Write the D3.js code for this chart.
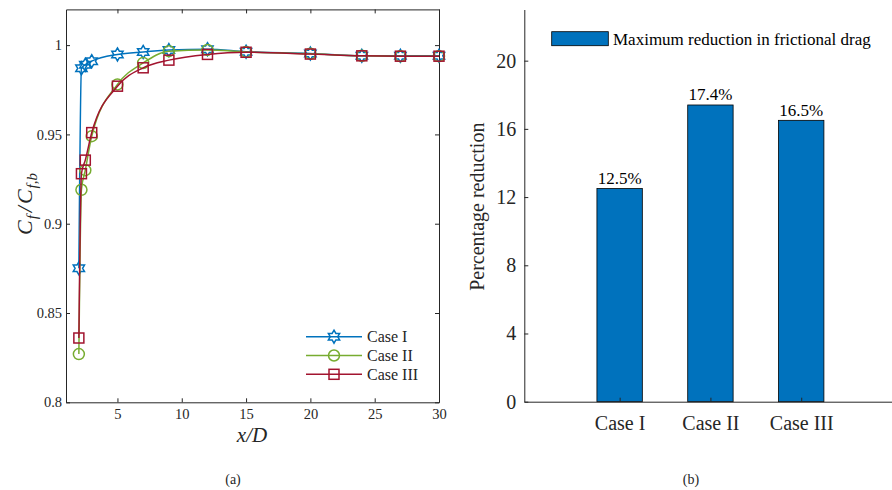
<!DOCTYPE html>
<html>
<head>
<meta charset="utf-8">
<script src="https://cdn.jsdelivr.net/npm/d3@7"></script>
<style>
body { margin: 0; background: #fff; }
text { font-family: "Liberation Serif", "Times New Roman", serif; fill: #262626; }
</style>
</head>
<body>
<script>
// x/D stations and Cf/Cf,b for each case
const xD = [2, 2.2, 2.5, 3, 5, 7, 9, 12, 15, 20, 24, 27, 30]
const caseI = [0.875, 0.987, 0.989, 0.991, 0.9948, 0.9962, 0.9972, 0.9977, 0.9963, 0.9953, 0.994, 0.994, 0.994]
const caseII = [0.827, 0.919, 0.930, 0.949, 0.978, 0.990, 0.9966, 0.9973, 0.9962, 0.9952, 0.994, 0.9938, 0.9938]
const caseIII = [0.836, 0.928, 0.9356, 0.951, 0.977, 0.9873, 0.9916, 0.9948, 0.996, 0.995, 0.994, 0.9938, 0.9938]
const xTicksL = [5, 10, 15, 20, 25, 30]
const yTicksL = [0.8, 0.85, 0.9, 0.95, 1]

// bar chart
const cases = ['Case I', 'Case II', 'Case III']
const reduction = [12.5, 17.4, 16.5]
const yTicksR = [0, 4, 8, 12, 16, 20]

const axisColor = '#262626'
const svg = d3.select('body').append('svg').attr('width', 892).attr('height', 490)

// ---------- (a) ----------
const xL = d3.scaleLinear().domain([1, 30]).range([66, 439])
const yL = d3.scaleLinear().domain([0.8, 1.02]).range([402.3, 9.4])

function styleAxis(g, size){
    g.select('.domain').attr('stroke', axisColor)
    g.selectAll('.tick line').attr('stroke', axisColor)
    g.selectAll('.tick text').attr('fill', axisColor).attr('font-size', size)
}

svg.append('g').attr('transform', 'translate(0,402.3)')
    .call(d3.axisBottom(xL).tickValues(xTicksL).tickSizeInner(-4).tickSizeOuter(0).tickPadding(6).tickFormat(d3.format('d')))
    .call(g=>styleAxis(g, 14.5))
svg.append('g').attr('transform', 'translate(0,9.4)')
    .call(d3.axisTop(xL).tickValues(xTicksL).tickSizeInner(-4).tickSizeOuter(0).tickFormat(''))
    .call(g=>styleAxis(g, 14.5))
svg.append('g').attr('transform', 'translate(66,0)')
    .call(d3.axisLeft(yL).tickValues(yTicksL).tickSizeInner(-4).tickSizeOuter(0).tickPadding(4).tickFormat(d3.format('~g')))
    .call(g=>styleAxis(g, 14.5))
svg.append('g').attr('transform', 'translate(439,0)')
    .call(d3.axisRight(yL).tickValues(yTicksL).tickSizeInner(-4).tickSizeOuter(0).tickFormat(''))
    .call(g=>styleAxis(g, 14.5))

function hexagram(r){
    const pts = d3.range(12).map(k=>{
        const a = (k*30 - 90) * Math.PI/180
        const rr = k%2===0 ? r : r/Math.sqrt(3)
        return [rr*Math.cos(a), rr*Math.sin(a)]
    })
    return 'M' + pts.map(p=>p.join(',')).join('L') + 'Z'
}
const markers = {
    hex: g=>g.append('path').attr('d', hexagram(6.5)),
    circle: g=>g.append('circle').attr('r', 5.5),
    square: g=>g.append('rect').attr('x', -5).attr('y', -5).attr('width', 10).attr('height', 10)
}

const series = [
    {name: 'Case I', values: caseI, color: '#0072BD', marker: 'hex'},
    {name: 'Case II', values: caseII, color: '#77AC30', marker: 'circle'},
    {name: 'Case III', values: caseIII, color: '#A2142F', marker: 'square'}
]
const line = d3.line().x(d=>xL(d[0])).y(d=>yL(d[1])).curve(d3.curveMonotoneX)

series.forEach(s=>{
    const pts = xD.map((x,i)=>[x, s.values[i]])
    svg.append('path').datum(pts).attr('d', line)
        .attr('fill', 'none').attr('stroke', s.color).attr('stroke-width', 1.5)
    svg.selectAll('g.m-' + s.marker)
        .data(pts)
        .enter()
        .append('g')
        .attr('class', 'm-' + s.marker)
        .attr('transform', d=>`translate(${xL(d[0])},${yL(d[1])})`)
        .each(function(){ markers[s.marker](d3.select(this)) })
        .selectAll('*').attr('fill', 'none').attr('stroke', s.color).attr('stroke-width', 1.5)
})

// legend (a)
series.forEach((s,i)=>{
    const y = 336.7 + i*18.8
    svg.append('line').attr('x1', 306).attr('x2', 362).attr('y1', y).attr('y2', y)
        .attr('stroke', s.color).attr('stroke-width', 1.5)
    const g = svg.append('g').attr('transform', `translate(334,${y})`)
    markers[s.marker](g)
    g.selectAll('*').attr('fill', 'none').attr('stroke', s.color).attr('stroke-width', 1.5)
    svg.append('text').attr('x', 367).attr('y', y + 5.5).attr('font-size', 16).text(s.name)
})

// axis labels (a)
svg.append('text').attr('x', 252).attr('y', 442).attr('text-anchor', 'middle')
    .attr('font-size', 21).attr('font-style', 'italic').text('x/D')
const yl = svg.append('text').attr('transform', 'translate(32,204) rotate(-90)')
    .attr('text-anchor', 'middle').attr('font-size', 22).attr('font-style', 'italic')
yl.append('tspan').text('C')
yl.append('tspan').attr('font-size', 15).attr('dy', 5).attr('dx', 1).text('f')
yl.append('tspan').attr('dy', -5).attr('dx', 3).text('/')
yl.append('tspan').attr('dx', 2).text('C')
yl.append('tspan').attr('font-size', 15).attr('dy', 5).attr('dx', 1).text('f,b')
svg.append('text').attr('x', 233).attr('y', 484).attr('text-anchor', 'middle').attr('font-size', 14).text('(a)')

// ---------- (b) ----------
const xR = d3.scaleLinear().domain([-0.05, 4]).range([524.3, 892])
const yR = d3.scaleLinear().domain([0, 23]).range([401.7, 9.5])
const barW = xR(0.5) - xR(0)

svg.selectAll('rect.bar')
    .data(reduction)
    .enter()
    .append('rect')
    .attr('class', 'bar')
    .attr('x', (d,i)=>xR(i+1) - barW/2)
    .attr('y', d=>yR(d))
    .attr('width', barW)
    .attr('height', d=>yR(0) - yR(d))
    .attr('fill', '#0072BD')
    .attr('stroke', '#000')
    .attr('stroke-width', 0.8)
svg.selectAll('text.val')
    .data(reduction)
    .enter()
    .append('text')
    .attr('class', 'val')
    .attr('x', (d,i)=>xR(i+1))
    .attr('y', d=>yR(d) - 4.5)
    .attr('text-anchor', 'middle')
    .attr('font-size', 17)
    .style('fill', '#000')
    .text(d=>d.toFixed(1) + '%')

svg.append('g').attr('transform', 'translate(0,401.7)')
    .call(d3.axisBottom(xR).tickValues([1, 2, 3]).tickSizeInner(-4).tickSizeOuter(0).tickPadding(14).tickFormat((d,i)=>cases[i]))
    .call(g=>styleAxis(g, 20))
svg.append('g').attr('transform', 'translate(524.3,0)')
    .call(d3.axisLeft(yR).tickValues(yTicksR).tickSizeInner(-4).tickSizeOuter(0).tickPadding(8))
    .call(g=>styleAxis(g, 20))

svg.append('text').attr('transform', 'translate(484,206.7) rotate(-90)')
    .attr('text-anchor', 'middle').attr('font-size', 20).text('Percentage reduction')

// legend (b)
svg.append('rect').attr('x', 551.7).attr('y', 31.7).attr('width', 56.6).attr('height', 14)
    .attr('fill', '#0072BD').attr('stroke', '#000').attr('stroke-width', 0.8)
svg.append('text').attr('x', 613).attr('y', 45).attr('font-size', 17).style('fill', '#000')
    .text('Maximum reduction in frictional drag')

svg.append('text').attr('x', 691).attr('y', 484).attr('text-anchor', 'middle').attr('font-size', 14).text('(b)')
</script>
</body>
</html>
